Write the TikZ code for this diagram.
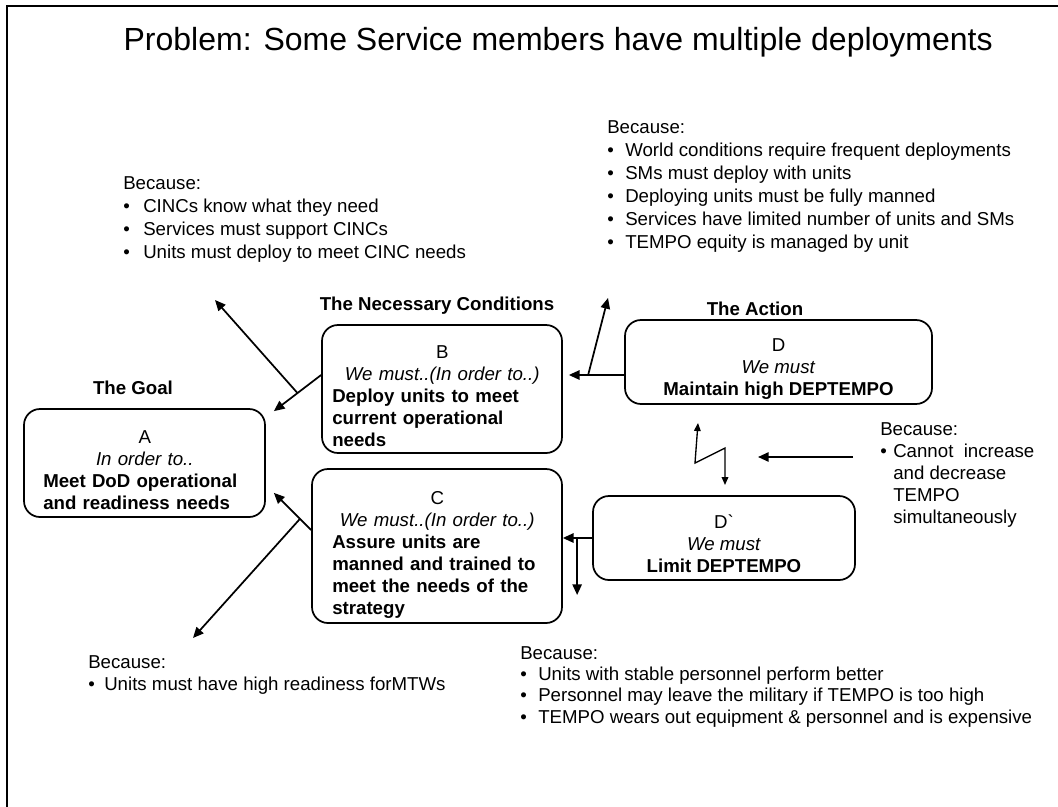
\documentclass[tikz,border=0pt]{standalone}
\usepackage{fontspec}
\setmainfont{Liberation Sans}
\usetikzlibrary{arrows.meta,positioning,calc}
\tikzset{>={Triangle[length=8pt,width=7pt]}}
\newcommand{\bul}[1][13.5pt]{\makebox[#1][l]{\textbullet}}
\newcommand{\boxlines}[3]{\makebox[\linewidth]{#1}\\\makebox[\linewidth]{\itshape #2}\\\bfseries #3}

\begin{document}
\begin{tikzpicture}[x=0.75pt, y=-0.75pt,
  every node/.style={inner sep=0pt, font=\fontsize{14}{16.5}\selectfont},
  cbox/.style={draw, line width=1.3pt, rounded corners=12pt},
  boxtext/.style={anchor=north west, align=left},
  because/.style={anchor=north west, align=left},
  heading/.style={anchor=base, font=\fontsize{14}{16.5}\selectfont\bfseries},
  arr/.style={->, line width=1.3pt}]

\useasboundingbox (0,0) rectangle (1058,807);

% frame
\draw[line width=2pt] (1058,6) -- (7,6) -- (7,807);

% title
\node[anchor=base east, font=\fontsize{24}{28}\selectfont] (title) at (993,50)
  {Problem: Some Service members have multiple deployments};

% the cloud boxes
\node[cbox, minimum width=180.75pt, minimum height=81pt] (A) at (144.5,463) {};
\node[cbox, minimum width=180pt, minimum height=96pt] (B) at (442,389) {};
\node[cbox, minimum width=187.5pt, minimum height=115.5pt] (C) at (437,546) {};
\node[cbox, minimum width=230.25pt, minimum height=63pt] (D) at (778.5,362) {};
\node[cbox, minimum width=196.5pt, minimum height=63pt] (Dp) at (724,538) {};

% box texts
\node[boxtext, text width=152.25pt] (Atext) at (43,430)
  {\boxlines{A}{In order to..}{Meet DoD operational\\and readiness needs}};
\node[boxtext, text width=165pt] (Btext) at (332,345)
  {\boxlines{B}{We must..(In order to..)}{Deploy units to meet\\current operational\\needs}};
\node[boxtext, text width=157.5pt] (Ctext) at (332,491)
  {\boxlines{C}{We must..(In order to..)}{Assure units are\\manned and trained to\\meet the needs of the\\strategy}};
\node[anchor=north, align=center] (Dtext) at (778.5,338)
  {D\\\textit{We must}\\\textbf{Maintain high DEPTEMPO}};
\node[anchor=north, align=center] (Dptext) at (724,514)
  {D\textasciigrave\\\textit{We must}\\\textbf{Limit DEPTEMPO}};

% headings
\node[heading] (goal) at (133,394) {The Goal};
\node[heading] (necessary) at (437,310) {The Necessary Conditions};
\node[heading] (action) at (755,315) {The Action};

% assumptions
\node[because, font=\fontsize{14}{17.25}\selectfont] (becTL) at (123,176)
  {Because:\\\bul[15pt]CINCs know what they need\\\bul[15pt]Services must support CINCs\\\bul[15pt]Units must deploy to meet CINC needs};
\node[because, font=\fontsize{14}{17.25}\selectfont] (becTR) at (607,120)
  {Because:\\\bul World conditions require frequent deployments\\\bul SMs must deploy with units\\\bul Deploying units must be fully manned\\\bul Services have limited number of units and SMs\\\bul TEMPO equity is managed by unit};
\node[because] (becR) at (880,422)
  {Because:\\\bul[9.75pt]Cannot~ increase\\\hspace*{9.75pt}and decrease\\\hspace*{9.75pt}TEMPO\\\hspace*{9.75pt}simultaneously};
\node[because] (becBL) at (88,655)
  {Because:\\\bul[12pt]Units must have high readiness forMTWs};
\node[because, font=\fontsize{14}{16}\selectfont] (becBM) at (520,646)
  {Because:\\\bul Units with stable personnel perform better\\\bul Personnel may leave the military if TEMPO is too high\\\bul TEMPO wears out equipment \& personnel and is expensive};

% D -> B, with branch up
\coordinate (DBstart) at ($(D.west)+(0,13)$);
\coordinate (DBfork) at ($(D.west)+(-36,13)$);
\coordinate (DBup) at (608,298);
\draw[arr] (DBstart) -- ($(B.east)+(6,-14)$);
\draw[arr] (DBfork) -- (DBup);

% B -> A, with branch up
\coordinate (BAstart) at ($(B.west)+(0,-14)$);
\coordinate (BAend) at ($(A.north east)+(8,3)$);
\coordinate (BAup) at (215,300);
\draw[arr] (BAstart) -- (BAend);
\draw[arr] ($(BAstart)!0.5!(BAend)$) -- (BAup);

% C -> A, with branch down
\coordinate (CAstart) at ($(C.west)+(0,-16)$);
\coordinate (CAend) at ($(A.south east)+(8,-25)$);
\coordinate (CAdown) at (193,638);
\draw[arr] (CAstart) -- (CAend);
\draw[arr] ($(CAstart)!0.3!(CAend)$) -- (CAdown);

% D` -> C, with branch down
\coordinate (DpCfork) at ($(Dp.west)+(-15,0)$);
\coordinate (DpCdown) at ($(Dp.west)+(-15,57)$);
\draw[arr] (Dp.west) -- (Dp.west -| C.east);
\draw[arr] (DpCfork) -- (DpCdown);

% conflict
\coordinate (zz1) at (698,423);
\coordinate (zz2) at (695,463);
\coordinate (zz3) at (725,448);
\coordinate (zz4) at (725,485);
\draw[<->, line width=1pt, >={Triangle[length=6pt,width=5pt]}] (zz1) -- (zz2) -- (zz3) -- (zz4);
\coordinate (Rstart) at (853,457);
\coordinate (Rend) at (758,457);
\draw[arr] (Rstart) -- (Rend);

\end{tikzpicture}
\end{document}
